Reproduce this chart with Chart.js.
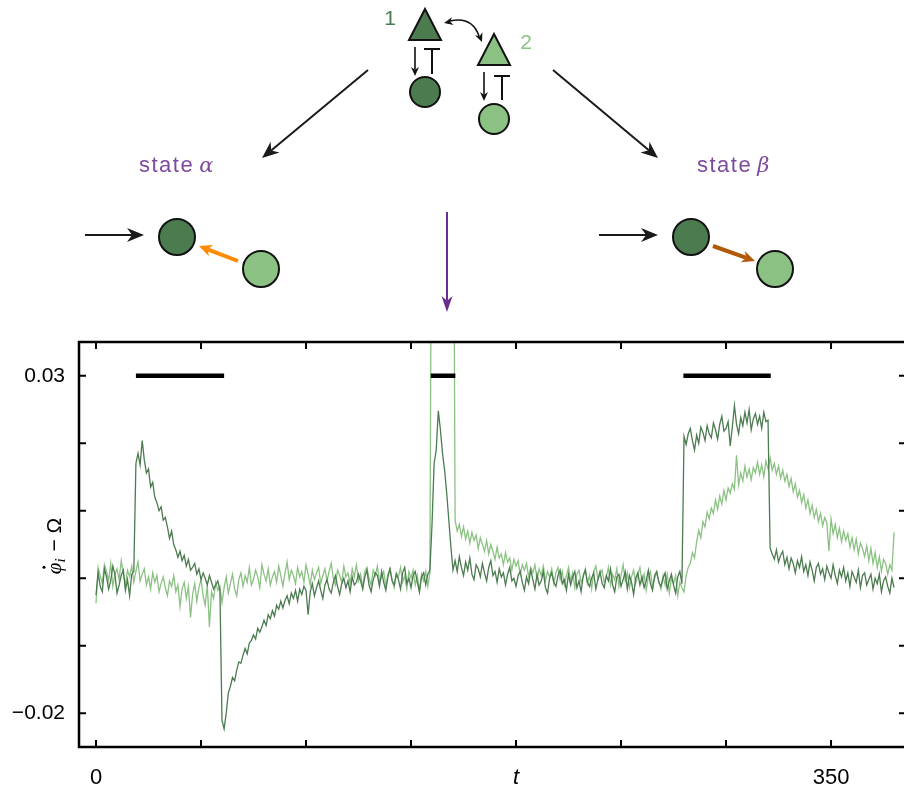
<!DOCTYPE html>
<html lang="en">
<head>
<meta charset="UTF-8" />
<title>phase velocity - two nodes</title>
<style>
  html, body { margin: 0; padding: 0; background: #fff; overflow: hidden; }
  .wrap { position: relative; width: 908px; height: 789px; }
</style>
</head>
<body>
<div class="wrap"><canvas id="chart"></canvas></div>
<script src="https://cdn.jsdelivr.net/npm/chart.js"></script>
<script>
// sampling of the time axis
const tStart = 0, tStep = 1;

// node 1 (dark green), phi_1 dot - Omega, t = 0..380
const node1 = [
  -0.0025, 0.0008, -0.0012, -0.0020, 0.0014, 0.0002, -0.0016, -0.0004, 0.0018, 0.0006,
  -0.0022, -0.0010, 0.0004, 0.0012, -0.0018, -0.0002, -0.0026, 0.0006, 0.0010,
  0.0170, 0.0185, 0.0168, 0.0204, 0.0175, 0.0156, 0.0162, 0.0135, 0.0142, 0.0120, 0.0112,
  0.0100, 0.0106, 0.0086, 0.0090, 0.0076, 0.0059, 0.0070, 0.0050, 0.0042, 0.0031,
  0.0040, 0.0026, 0.0034, 0.0018, 0.0028, 0.0012, 0.0016, 0.0022, 0.0006, 0.0014,
  -0.0002, 0.0008, 0.0000, -0.0010, 0.0004, -0.0006, -0.0016, -0.0010, -0.0004, -0.0018,
  -0.0211, -0.0223, -0.0200, -0.0170, -0.0160, -0.0147, -0.0152, -0.0136, -0.0124, -0.0126,
  -0.0114, -0.0104, -0.0112, -0.0096, -0.0092, -0.0084, -0.0090, -0.0074, -0.0080, -0.0072,
  -0.0062, -0.0070, -0.0054, -0.0060, -0.0048, -0.0056, -0.0040, -0.0046, -0.0034, -0.0044,
  -0.0033, -0.0026, -0.0038, -0.0022, -0.0030, -0.0018, -0.0034, -0.0016, -0.0024, -0.0012,
  -0.0018,
  -0.0054, -0.0020, -0.0008, -0.0026, -0.0014, -0.0004, -0.0018, -0.0030, -0.0010, -0.0002,
  -0.0016, -0.0022, -0.0006, 0.0004, -0.0012, -0.0024, -0.0008, 0.0000, -0.0014, -0.0004,
  -0.0020, 0.0002, -0.0010, -0.0006,
  0.0006, -0.0004, -0.0016, 0.0002, 0.0012, -0.0010, -0.0020, -0.0002, 0.0008, 0.0004,
  -0.0012, 0.0010, -0.0006, -0.0018, 0.0002, 0.0014, -0.0004, -0.0010, 0.0006, -0.0002,
  -0.0016, 0.0008, 0.0016, -0.0008, 0.0000, -0.0014, 0.0004, 0.0010, -0.0006, -0.0020,
  0.0002, 0.0008, -0.0010, 0.0006, 0.0012,
  0.0080, 0.0170, 0.0190, 0.0248, 0.0220, 0.0185, 0.0160, 0.0126, 0.0086, 0.0046, 0.0012,
  0.0026, 0.0010, 0.0032, 0.0016, 0.0004, 0.0024, 0.0012, 0.0030, 0.0006, -0.0002,
  0.0020, 0.0014, 0.0002, 0.0022, 0.0008, -0.0004, 0.0016, 0.0026, 0.0004, 0.0010,
  -0.0006, 0.0014, 0.0002, 0.0008, -0.0010, 0.0006, 0.0016, -0.0004, 0.0000,
  -0.0012, 0.0004, 0.0010, -0.0006, -0.0018, 0.0002, -0.0008, 0.0012, -0.0002, -0.0016,
  0.0006, -0.0010, -0.0004, 0.0010, -0.0014, -0.0022, 0.0000, 0.0008, -0.0006, -0.0012,
  0.0004, 0.0012, -0.0008, -0.0002, -0.0018, 0.0006, -0.0010, 0.0002, 0.0010, -0.0014,
  -0.0004, -0.0020, 0.0004, 0.0012, -0.0006, -0.0012, 0.0000, 0.0008, -0.0016, -0.0002,
  0.0010, -0.0008, -0.0014, 0.0004, -0.0004, 0.0014, -0.0010, -0.0020, 0.0002, 0.0006,
  -0.0012, -0.0002, 0.0010, -0.0016, 0.0004, -0.0006, -0.0024, 0.0000, 0.0008, -0.0010,
  0.0002, -0.0014, -0.0004, 0.0012, -0.0008, -0.0018, 0.0004, 0.0010, -0.0006, -0.0012,
  0.0000, 0.0008, -0.0016, -0.0004, 0.0006, -0.0010, -0.0022, 0.0002, 0.0010, -0.0008,
  0.0210, 0.0198, 0.0214, 0.0222, 0.0204, 0.0190, 0.0212, 0.0200, 0.0224, 0.0216,
  0.0204, 0.0226, 0.0214, 0.0208, 0.0230, 0.0220, 0.0206, 0.0228, 0.0240, 0.0218,
  0.0222, 0.0232, 0.0196, 0.0224, 0.0256, 0.0228, 0.0214, 0.0238, 0.0226, 0.0246,
  0.0230, 0.0250, 0.0220, 0.0236, 0.0244, 0.0228, 0.0240, 0.0222, 0.0246, 0.0232,
  0.0234,
  0.0045, 0.0036, 0.0028, 0.0042, 0.0024, 0.0034, 0.0040, 0.0020, 0.0031, 0.0014,
  0.0030, 0.0022, 0.0008, 0.0026, 0.0016, 0.0032, 0.0010, 0.0020, 0.0004, 0.0024,
  0.0012, -0.0004, 0.0016, 0.0022, 0.0006, 0.0014, -0.0002, 0.0018, 0.0008, 0.0000,
  0.0020, 0.0004, -0.0008, 0.0012, 0.0002, 0.0016, -0.0004, 0.0008, -0.0012, 0.0010,
  0.0002, -0.0006, 0.0012, -0.0014, 0.0004, 0.0008, -0.0010, -0.0002, 0.0006, -0.0016,
  0.0000, -0.0008, 0.0006, -0.0020, -0.0004, 0.0002, -0.0012, -0.0022, 0.0000, -0.0014
];

// node 2 (light green), t = 0..380 ; 0.08 = far above the top of the frame
const node2 = [
  -0.0037, 0.0016, 0.0004, -0.0008, 0.0020, 0.0010, -0.0004, 0.0022, -0.0012, 0.0006,
  0.0014, -0.0002, 0.0026, 0.0008, -0.0010, 0.0012, 0.0002, 0.0018, -0.0006, 0.0010,
  0.0024, -0.0004, 0.0006, 0.0014, -0.0010, 0.0002, -0.0016, 0.0008, -0.0006, 0.0004,
  -0.0020, -0.0008, 0.0002, -0.0014, -0.0026, -0.0004, -0.0012, 0.0004, -0.0020, -0.0010,
  -0.0042, -0.0016, -0.0006, -0.0030, -0.0012, -0.0058, -0.0024, -0.0008, -0.0034, -0.0014,
  -0.0002, -0.0026, -0.0040, -0.0010, -0.0072, -0.0020, -0.0030, -0.0006, -0.0018, -0.0012,
  -0.0036, -0.0014, 0.0002, -0.0022, -0.0008, 0.0006, -0.0016, -0.0026, -0.0002, 0.0008,
  -0.0012, 0.0004, -0.0006, 0.0016, -0.0010, -0.0002, 0.0012, 0.0002, -0.0014, 0.0020,
  0.0006, -0.0004, 0.0014, -0.0010, 0.0002, 0.0010, -0.0006, 0.0018, 0.0004, -0.0012,
  0.0008, 0.0024, -0.0002, 0.0012, 0.0004, -0.0008, 0.0016, 0.0002, 0.0010, -0.0006,
  0.0020, 0.0006, -0.0010, 0.0012, -0.0002, 0.0008, 0.0016, -0.0008, 0.0004, 0.0014,
  -0.0004, 0.0010, 0.0022, 0.0000, -0.0010, 0.0012, 0.0004, -0.0006, 0.0018, 0.0002,
  0.0008, -0.0008, 0.0014, 0.0002, 0.0020, -0.0004, 0.0006, -0.0014, 0.0010, 0.0016,
  0.0000, -0.0010, 0.0012, 0.0004, 0.0018, -0.0006, 0.0002, 0.0010, -0.0012, 0.0006,
  0.0014, -0.0002, -0.0014, 0.0008, 0.0002, 0.0016, -0.0006, 0.0004, -0.0016, 0.0010,
  0.0000, 0.0012, -0.0010, 0.0004, -0.0020, 0.0006, -0.0004, 0.0010, -0.0012, 0.0008,
  0.08, 0.08, 0.08, 0.08, 0.08, 0.08, 0.08, 0.08, 0.08, 0.08, 0.08,
  0.0086, 0.0070, 0.0080, 0.0062, 0.0076, 0.0058, 0.0070, 0.0052, 0.0068, 0.0056,
  0.0064, 0.0044, 0.0060, 0.0050, 0.0040, 0.0056, 0.0036, 0.0050, 0.0040, 0.0028,
  0.0046, 0.0030, 0.0036, 0.0020, 0.0038, 0.0024, 0.0030, 0.0012, 0.0028, 0.0018,
  0.0026, 0.0006, 0.0020, 0.0012, 0.0022, 0.0002, 0.0016, 0.0008, 0.0020, -0.0002,
  0.0014, 0.0004, 0.0018, -0.0004, 0.0010, 0.0002, 0.0014, -0.0008, 0.0008, 0.0016,
  -0.0002, 0.0010, -0.0010, 0.0004, 0.0016, -0.0004, 0.0008, -0.0014, 0.0006, 0.0012,
  -0.0006, 0.0002, 0.0014, -0.0008, 0.0004, -0.0016, 0.0010, 0.0018, -0.0002, 0.0006,
  0.0012, -0.0006, 0.0002, 0.0016, -0.0010, 0.0006, -0.0002, 0.0014, -0.0012, 0.0004,
  0.0020, -0.0004, 0.0008, -0.0014, 0.0002, 0.0012, -0.0008, 0.0004, 0.0016, -0.0006,
  0.0006, -0.0018, 0.0002, 0.0010, -0.0012, 0.0000, 0.0008, -0.0004, -0.0016, 0.0004,
  -0.0010, 0.0006, -0.0022, 0.0000, -0.0008, 0.0004, -0.0026, -0.0006, -0.0014, -0.0020,
  0.0004, 0.0016, 0.0022, 0.0038, 0.0030, 0.0054, 0.0071, 0.0060, 0.0084, 0.0076,
  0.0098, 0.0088, 0.0104, 0.0096, 0.0116, 0.0102, 0.0122, 0.0110, 0.0130, 0.0116,
  0.0134, 0.0126, 0.0140, 0.0132, 0.0182, 0.0138, 0.0156, 0.0144, 0.0166, 0.0150,
  0.0162, 0.0146, 0.0164, 0.0156, 0.0172, 0.0154, 0.0168, 0.0150, 0.0174, 0.0162,
  0.0178, 0.0160, 0.0170, 0.0154, 0.0166, 0.0148, 0.0160, 0.0144, 0.0154, 0.0136,
  0.0148, 0.0128, 0.0140, 0.0120, 0.0130, 0.0112, 0.0124, 0.0104, 0.0116, 0.0096,
  0.0108, 0.0090, 0.0102, 0.0084, 0.0096, 0.0078, 0.0090, 0.0082, 0.0040, 0.0088,
  0.0066, 0.0080, 0.0060, 0.0074, 0.0054, 0.0070, 0.0056, 0.0066, 0.0046, 0.0060,
  0.0042, 0.0058, 0.0036, 0.0052, 0.0044, 0.0032, 0.0048, 0.0026, 0.0044, 0.0022,
  0.0038, 0.0016, 0.0032, 0.0010, 0.0028, 0.0022, 0.0006, 0.0020, 0.0012, 0.0068
];

// black horizontal bars (stimulus windows)
const barStarts = [19, 159.4, 279.7];
const barEnds = [61, 171.1, 321.3];
const barLevel = 0.03;

// ticks
const xTickVals = [0, 50, 100, 150, 200, 250, 300, 350];
const xTickText = ['0', '', '', '', 't', '', '', '350'];
const yTickVals = [-0.02, -0.01, 0, 0.01, 0.02, 0.03];
const yTickText = ['\u22120.02', '', '', '', '', '0.03'];

const DARK = '#4b7b4f';
const LIGHT = '#8bc283';
const FONT = "'Liberation Sans', Arial, sans-serif";

const times = node1.map((_, i) => tStart + i * tStep);

const barSets = barStarts.map((s, i) => ({
  label: 'bar' + i,
  data: [{ x: s, y: barLevel }, { x: barEnds[i], y: barLevel }],
  borderColor: '#000',
  borderWidth: 4.5,
  pointRadius: 0,
  borderCapStyle: 'butt'
}));

function head(ctx, x, y, a, color, hl, hw) {
  const c = Math.cos(a), s = Math.sin(a);
  ctx.fillStyle = color;
  ctx.beginPath();
  ctx.moveTo(x, y);
  ctx.lineTo(x - hl * c - hw / 2 * s, y - hl * s + hw / 2 * c);
  ctx.lineTo(x - hl * 0.7 * c, y - hl * 0.7 * s);
  ctx.lineTo(x - hl * c + hw / 2 * s, y - hl * s - hw / 2 * c);
  ctx.closePath();
  ctx.fill();
}

function arrow(ctx, x1, y1, x2, y2, color, lw, hl, hw) {
  const a = Math.atan2(y2 - y1, x2 - x1);
  ctx.strokeStyle = color;
  ctx.lineWidth = lw;
  ctx.beginPath();
  ctx.moveTo(x1, y1);
  ctx.lineTo(x2 - hl * 0.7 * Math.cos(a), y2 - hl * 0.7 * Math.sin(a));
  ctx.stroke();
  head(ctx, x2, y2, a, color, hl, hw);
}

function circle(ctx, x, y, r, fill) {
  ctx.beginPath();
  ctx.arc(x, y, r, 0, Math.PI * 2);
  ctx.fillStyle = fill;
  ctx.fill();
  ctx.lineWidth = 2;
  ctx.strokeStyle = '#111';
  ctx.stroke();
}

function triangle(ctx, pts, fill) {
  ctx.beginPath();
  ctx.moveTo(pts[0][0], pts[0][1]);
  ctx.lineTo(pts[1][0], pts[1][1]);
  ctx.lineTo(pts[2][0], pts[2][1]);
  ctx.closePath();
  ctx.fillStyle = fill;
  ctx.fill();
  ctx.lineWidth = 2;
  ctx.lineJoin = 'miter';
  ctx.strokeStyle = '#111';
  ctx.stroke();
}

function inhibit(ctx, x, yTop, yBot, half) {
  ctx.strokeStyle = '#111';
  ctx.lineWidth = 2;
  ctx.beginPath();
  ctx.moveTo(x, yBot);
  ctx.lineTo(x, yTop);
  ctx.moveTo(x - half, yTop);
  ctx.lineTo(x + half, yTop);
  ctx.stroke();
}

function stateLabel(ctx, x, y, greek) {
  ctx.fillStyle = '#7e4a9e';
  ctx.textAlign = 'left';
  ctx.textBaseline = 'alphabetic';
  ctx.font = '22px ' + FONT;
  ctx.letterSpacing = '1.5px';
  ctx.fillText('state', x, y);
  const w = ctx.measureText('state').width;
  ctx.letterSpacing = '0px';
  ctx.font = "italic 21px 'DejaVu Serif', serif";
  ctx.fillText(greek, x + w + 5, y);
}

const diagram = {
  id: 'diagram',
  afterDraw(chart) {
    const ctx = chart.ctx;
    ctx.save();
    // motif at the top
    triangle(ctx, [[425, 9], [409, 40], [441, 40]], DARK);
    triangle(ctx, [[494, 34], [478, 65], [510, 65]], LIGHT);
    circle(ctx, 425, 92, 15, DARK);
    circle(ctx, 494, 119, 15, LIGHT);
    arrow(ctx, 415, 47, 415, 76, '#111', 1.6, 9, 8);
    inhibit(ctx, 432, 49, 74, 8);
    arrow(ctx, 484, 72, 484, 101, '#111', 1.6, 9, 8);
    inhibit(ctx, 502, 76, 100, 8);
    ctx.font = '21px ' + FONT;
    ctx.textAlign = 'center';
    ctx.textBaseline = 'middle';
    ctx.fillStyle = DARK;
    ctx.fillText('1', 390, 19);
    ctx.fillStyle = LIGHT;
    ctx.fillText('2', 526, 43);
    // curved double arrow between the triangles
    ctx.strokeStyle = '#111';
    ctx.lineWidth = 1.6;
    ctx.beginPath();
    ctx.moveTo(450, 21);
    ctx.quadraticCurveTo(472, 16, 479, 36);
    ctx.stroke();
    head(ctx, 444, 23, Math.atan2(23 - 17, 444 - 472), '#111', 9, 8);
    head(ctx, 482, 42, Math.atan2(42 - 17, 482 - 472), '#111', 9, 8);
    // branches
    arrow(ctx, 368, 70, 262, 158, '#1a1a1a', 2, 17, 14);
    arrow(ctx, 553, 70, 658, 158, '#1a1a1a', 2, 17, 14);
    stateLabel(ctx, 139, 172, '\u03b1');
    stateLabel(ctx, 697, 172, '\u03b2');
    arrow(ctx, 447, 212, 447, 312, '#6a2d8f', 2, 16, 11);
    // state alpha
    arrow(ctx, 85, 235, 144, 235, '#1a1a1a', 2, 17, 14);
    circle(ctx, 177, 237, 18, DARK);
    circle(ctx, 261, 269, 18, LIGHT);
    arrow(ctx, 238, 261, 199, 246, '#ff8a00', 4, 13, 12);
    // state beta
    arrow(ctx, 599, 235, 658, 235, '#1a1a1a', 2, 17, 14);
    circle(ctx, 691, 237, 18, DARK);
    circle(ctx, 775, 269, 18, LIGHT);
    arrow(ctx, 713, 246, 755, 261, '#b35806', 4, 13, 12);
    ctx.restore();
  }
};

const frame = {
  id: 'frame',
  afterDraw(chart) {
    const { ctx, chartArea: a, scales } = chart;
    ctx.save();
    ctx.strokeStyle = '#000';
    ctx.lineWidth = 2;
    ctx.beginPath();
    xTickVals.forEach(v => {
      const px = scales.x.getPixelForValue(v);
      ctx.moveTo(px, a.bottom); ctx.lineTo(px, a.bottom - 7);
      ctx.moveTo(px, a.top); ctx.lineTo(px, a.top + 7);
    });
    yTickVals.forEach(v => {
      const py = scales.y.getPixelForValue(v);
      ctx.moveTo(a.left, py); ctx.lineTo(a.left + 7, py);
      ctx.moveTo(a.right, py); ctx.lineTo(a.right - 7, py);
    });
    ctx.stroke();
    ctx.lineWidth = 2.5;
    ctx.strokeRect(a.left, a.top, a.right - a.left, a.bottom - a.top);

    // y axis title: phi-dot_i - Omega, rotated
    ctx.translate(61, 546);
    ctx.rotate(-Math.PI / 2);
    ctx.fillStyle = '#000';
    ctx.textBaseline = 'alphabetic';
    ctx.textAlign = 'left';
    const fPhi = "italic 21px 'Liberation Serif', serif";
    const fSub = "italic 15px 'Liberation Serif', serif";
    const fRest = '21px ' + FONT;
    ctx.font = fPhi; const wPhi = ctx.measureText('\u03c6').width;
    ctx.font = fSub; const wSub = ctx.measureText('i').width;
    ctx.font = fRest; const wRest = ctx.measureText(' \u2212 \u03a9').width;
    let x = -(wPhi + wSub + 1 + wRest) / 2;
    ctx.font = fPhi; ctx.fillText('\u03c6', x, 0);
    ctx.beginPath(); ctx.arc(x + wPhi * 0.6, -17, 1.5, 0, Math.PI * 2); ctx.fill();
    x += wPhi;
    ctx.font = fSub; ctx.fillText('i', x, 4);
    x += wSub + 1;
    ctx.font = fRest; ctx.fillText(' \u2212 \u03a9', x, 0);
    ctx.restore();
  }
};

new Chart(document.getElementById('chart'), {
  type: 'line',
  data: {
    labels: times,
    datasets: [
      ...barSets,
      { label: 'node 1', data: node1, borderColor: DARK, borderWidth: 1.3, pointRadius: 0, tension: 0 },
      { label: 'node 2', data: node2, borderColor: LIGHT, borderWidth: 1.3, pointRadius: 0, tension: 0 }
    ]
  },
  options: {
    responsive: true,
    maintainAspectRatio: false,
    animation: false,
    layout: { padding: { top: 342, right: 2, left: 0, bottom: 0 } },
    plugins: { legend: { display: false }, tooltip: { enabled: false } },
    scales: {
      x: {
        type: 'linear',
        min: -8.1,
        max: 385.7,
        grid: { display: false },
        border: { display: false },
        afterBuildTicks: s => { s.ticks = xTickVals.map(v => ({ value: v })); },
        afterFit: s => { s.height = 42; },
        ticks: {
          autoSkip: false,
          maxRotation: 0,
          padding: 10,
          color: '#000',
          font: c => ({ family: FONT, size: 22, style: xTickText[c.index] === 't' ? 'italic' : 'normal' }),
          callback: (v, i) => xTickText[i]
        }
      },
      y: {
        min: -0.025,
        max: 0.035,
        grid: { display: false },
        border: { display: false },
        afterBuildTicks: s => { s.ticks = yTickVals.map(v => ({ value: v })); },
        afterFit: s => { s.width = 79; },
        ticks: {
          autoSkip: false,
          padding: 6,
          color: '#000',
          font: { family: FONT, size: 21 },
          callback: (v, i) => yTickText[i]
        }
      }
    }
  },
  plugins: [frame, diagram]
});
</script>
</body>
</html>
